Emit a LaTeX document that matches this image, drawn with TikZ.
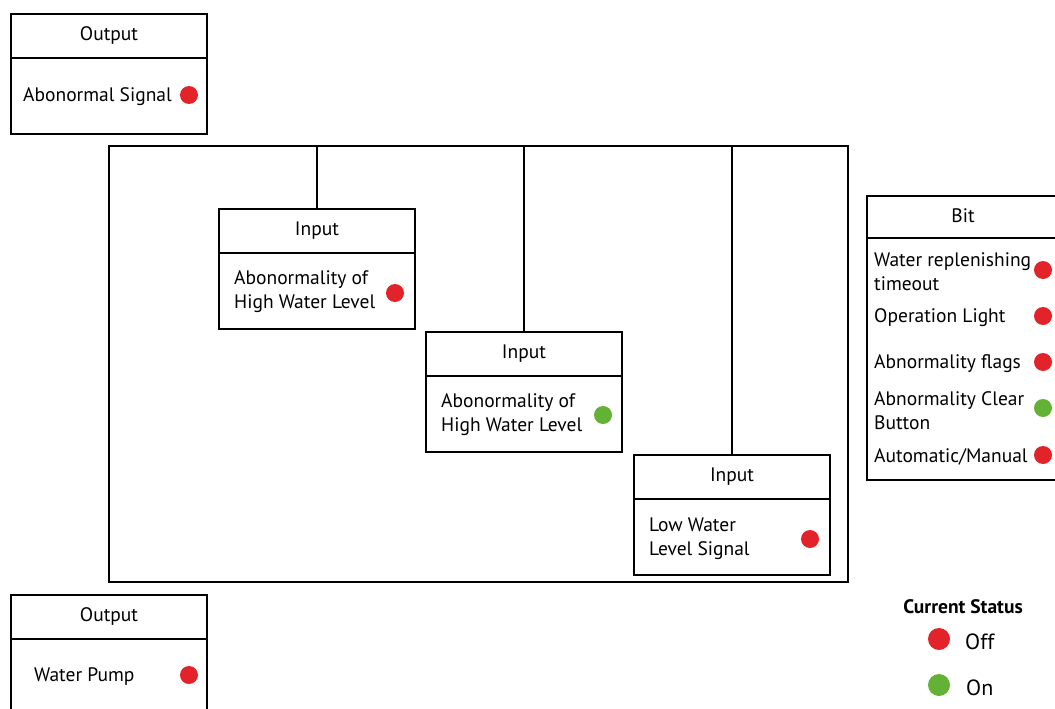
\documentclass[tikz,border=0pt]{standalone}
\usepackage{fontspec}
\setmainfont{PT Sans}
\definecolor{offred}{HTML}{E3232A}
\definecolor{ongreen}{HTML}{63B236}
\begin{document}
\begin{tikzpicture}[x=1pt,y=-1pt,
  box/.style={draw=black,line width=2pt,minimum width=196pt,inner sep=0pt,anchor=north west},
  hdr/.style={box,minimum height=44pt,font=\fontsize{19.5}{22}\selectfont},
  lbl/.style={anchor=west,align=left,inner sep=0pt,yshift=-1.5pt,font=\fontsize{19.5}{24}\selectfont},
  dotr/.style={circle,fill=offred,minimum size=18pt,inner sep=0pt},
  dotg/.style={circle,fill=ongreen,minimum size=18pt,inner sep=0pt},
  wire/.style={line width=2pt}]
\useasboundingbox (0,0) rectangle (1055,709);
\clip (0,0) rectangle (1055,709);
% Output 1
\node[box,minimum height=120pt] (o1) at (10,13) {};
\node[hdr] (o1h) at (10,13) {Output};
\node[lbl] (o1t) at (23,95) {Abonormal Signal};
\node[dotr] (o1d) at (189,95) {};
% frame
\node[box,minimum width=739pt,minimum height=436pt] (frame) at (108,145) {};
% Input 1
\node[box,minimum height=120pt] (i1) at (218,208) {};
\node[hdr] (i1h) at (218,208) {Input};
\node[lbl] (i1t) at (234,290) {Abonormality of\\High Water Level};
\node[dotr] (i1d) at (395,293) {};
% Input 2
\node[box,minimum height=120pt] (i2) at (425,331) {};
\node[hdr] (i2h) at (425,331) {Input};
\node[lbl] (i2t) at (441,413) {Abonormality of\\High Water Level};
\node[dotg] (i2d) at (603,415) {};
% Input 3
\node[box,minimum height=120pt] (i3) at (633,454) {};
\node[hdr] (i3h) at (633,454) {Input};
\node[lbl] (i3t) at (649,537) {Low Water\\Level Signal};
\node[dotr] (i3d) at (810,539) {};
% connectors
\draw[wire] (i1h.north |- frame.north) -- (i1h.north);
\draw[wire] (i2h.north |- frame.north) -- (i2h.north);
\draw[wire] (i3h.north |- frame.north) -- (i3h.north);
% Bit
\node[box,minimum width=200pt,minimum height=284pt] (bit) at (866,195) {};
\node[hdr,minimum width=200pt,minimum height=42pt] (bith) at (866,195) {};
\node[font=\fontsize{19.5}{22}\selectfont] (bitl) at (963,216) {Bit};
\node[lbl] (b1) at (874,270) {Water replenishing\\timeout};
\node[dotr] (b1d) at (1043,270) {};
\node[lbl] (b2) at (874,316) {Operation Light};
\node[dotr] (b2d) at (1043,316) {};
\node[lbl] (b3) at (874,362) {Abnormality flags};
\node[dotr] (b3d) at (1043,362) {};
\node[lbl] (b4) at (874,409) {Abnormality Clear\\Button};
\node[dotg] (b4d) at (1043,408) {};
\node[lbl] (b5) at (874,455) {Automatic/Manual};
\node[dotr] (b5d) at (1043,455) {};
% Output 2
\node[box,minimum height=130pt] (o2) at (10,594) {};
\node[hdr] (o2h) at (10,594) {Output};
\node[lbl] (o2t) at (34,675) {Water Pump};
\node[dotr] (o2d) at (189,675) {};
% legend
\node[font=\fontsize{19.5}{22}\selectfont\bfseries] (leg) at (963,607) {Current Status};
\node[dotr,minimum size=22pt] (lr) at (939,639) {};
\node[lbl,font=\fontsize{22}{24}\selectfont] (lrt) at (965,640) {Off};
\node[dotg,minimum size=22pt] (lg) at (939,685) {};
\node[lbl,font=\fontsize{22}{24}\selectfont] (lgt) at (966,686) {On};
\end{tikzpicture}
\end{document}
